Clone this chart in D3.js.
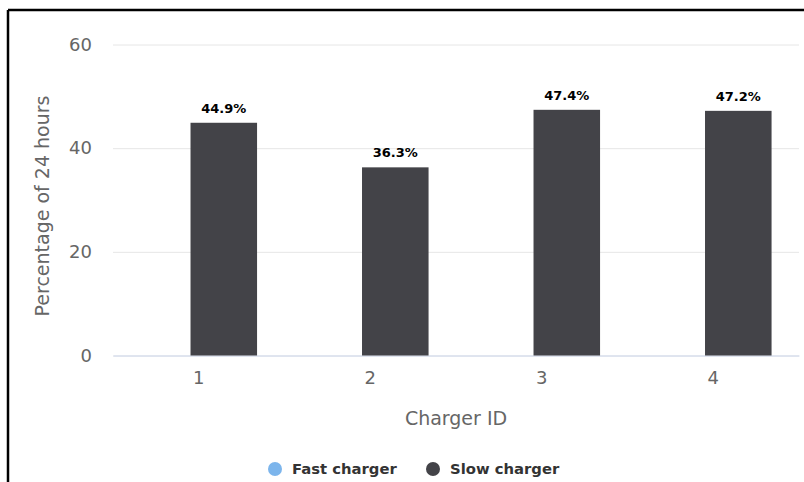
<!DOCTYPE html>
<html>
<head>
<meta charset="utf-8">
<script src="https://cdn.jsdelivr.net/npm/d3@7"></script>
<style>
  body { margin: 0; background: #fff; }
  #bar-chart svg { display: block; }
</style>
</head>
<body>
<div id="bar-chart"></div>
<script>
// chart data
var chargerIds = ["1", "2", "3", "4"];
var seriesNames = ["Fast charger", "Slow charger"];
var seriesColors = ["#7cb5ec", "#434348"];
var fastValues = [null, null, null, null];
var slowValues = [44.9, 36.3, 47.4, 47.2];
var yTicks = [0, 20, 40, 60];

var W = 804, H = 482;
var margin = {top: 44.5, right: 5, bottom: 126.5, left: 113};
var width = W - margin.left - margin.right,
    height = H - margin.top - margin.bottom;

var svg = d3.select("#bar-chart").append("svg")
    .attr("width", W)
    .attr("height", H);

// frame lines (left + top)
svg.append("line")
    .attr("x1", 8).attr("y1", 10).attr("x2", W).attr("y2", 10)
    .style("stroke", "#000").style("stroke-width", 2.5);
svg.append("line")
    .attr("x1", 8).attr("y1", 10).attr("x2", 8).attr("y2", H)
    .style("stroke", "#000").style("stroke-width", 2.5);

var g = svg.append("g")
    .attr("transform", "translate(" + margin.left + "," + margin.top + ")");

// scales
var xScale = d3.scaleBand()
    .domain(chargerIds)
    .range([0, width]);

// series slots inside each category
var xInner = d3.scaleBand()
    .domain(seriesNames)
    .range([xScale.bandwidth() * 0.064, xScale.bandwidth() * 0.84]);

var yScale = d3.scaleLinear()
    .domain([0, 60])
    .range([height, 0]);

// grid lines
g.append("g")
    .attr("class", "grid")
    .call(d3.axisLeft(yScale).tickValues(yTicks).tickSize(-width).tickFormat(""))
    .call(function(a) {
      a.select(".domain").remove();
      a.selectAll("line").style("stroke", "#e6e6e6");
    });

// y axis labels
g.append("g")
    .attr("class", "y axis")
    .call(d3.axisLeft(yScale).tickValues(yTicks).tickSize(0).tickPadding(21))
    .call(function(a) {
      a.select(".domain").remove();
      a.selectAll("text")
        .style("font-family", "DejaVu Sans")
        .style("font-size", "18px")
        .style("fill", "#666");
    });

// x axis
g.append("g")
    .attr("class", "x axis")
    .attr("transform", "translate(0," + height + ")")
    .call(d3.axisBottom(xScale).tickSize(0).tickPadding(16))
    .call(function(a) {
      a.select(".domain").style("stroke", "#ccd6eb");
      a.selectAll("text")
        .style("font-family", "DejaVu Sans")
        .style("font-size", "18px")
        .style("fill", "#666");
    });

// bars
var seriesData = [fastValues, slowValues];
seriesData.forEach(function(vals, s) {
  var rows = vals.map(function(v, i) { return {id: chargerIds[i], v: v}; })
                 .filter(function(d) { return d.v != null; });

  g.selectAll(".bar-" + s)
    .data(rows)
    .enter().append("rect")
      .attr("class", "bar-" + s)
      .attr("x", function(d) { return xScale(d.id) + xInner(seriesNames[s]); })
      .attr("y", function(d) { return yScale(d.v); })
      .attr("width", xInner.bandwidth())
      .attr("height", function(d) { return height - yScale(d.v); })
      .style("fill", seriesColors[s]);

  g.selectAll(".label-" + s)
    .data(rows)
    .enter().append("text")
      .attr("class", "label-" + s)
      .attr("x", function(d) { return xScale(d.id) + xInner(seriesNames[s]) + xInner.bandwidth() / 2; })
      .attr("y", function(d) { return yScale(d.v) - 10; })
      .style("text-anchor", "middle")
      .style("font-family", "DejaVu Sans")
      .style("font-weight", "bold")
      .style("font-size", "13px")
      .style("fill", "#000")
      .text(function(d) { return d.v.toFixed(1) + "%"; });
});

// axis titles
svg.append("text")
    .attr("transform", "translate(" + (margin.left + width / 2) + "," + 425 + ")")
    .style("text-anchor", "middle")
    .style("font-family", "DejaVu Sans")
    .style("font-size", "19px")
    .style("fill", "#666")
    .text("Charger ID");

svg.append("text")
    .attr("transform", "translate(" + 49 + "," + 206 + ") rotate(-90)")
    .style("text-anchor", "middle")
    .style("font-family", "DejaVu Sans")
    .style("font-size", "19px")
    .style("fill", "#666")
    .text("Percentage of 24 hours");

// legend
var legendX = [275, 433];
var legend = svg.selectAll(".legend")
    .data(seriesNames)
    .enter().append("g")
      .attr("class", "legend")
      .attr("transform", function(d, i) { return "translate(" + legendX[i] + ",469)"; });

legend.append("circle")
    .attr("r", 7)
    .style("fill", function(d, i) { return seriesColors[i]; });

legend.append("text")
    .attr("x", 17)
    .attr("dy", "0.35em")
    .style("font-family", "DejaVu Sans")
    .style("font-weight", "bold")
    .style("font-size", "14.8px")
    .style("fill", "#333")
    .text(function(d) { return d; });
</script>
</body>
</html>
